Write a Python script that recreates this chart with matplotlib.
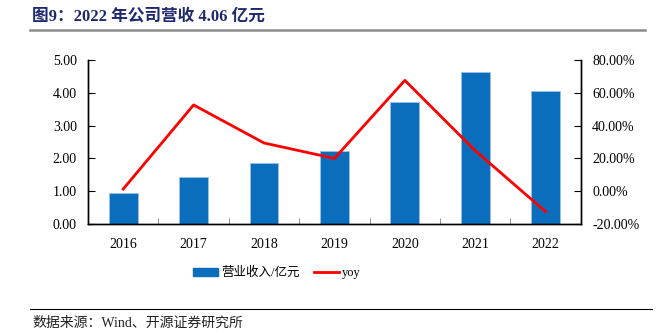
import numpy as np
import matplotlib.pyplot as plt
from matplotlib.lines import Line2D

plt.rcParams['font.family'] = ['Liberation Serif', 'Noto Sans CJK SC']
plt.rcParams['axes.unicode_minus'] = False

years = ['2016', '2017', '2018', '2019', '2020', '2021', '2022']
revenue = [0.94, 1.43, 1.85, 2.22, 3.72, 4.64, 4.06]
yoy = [1.3, 52.6, 29.4, 20.0, 67.6, 24.7, -12.5]

bar_color = '#0A6EBD'
line_color = '#FF0000'

fig = plt.figure(figsize=(6.59, 3.33), dpi=100)
ax1 = fig.add_axes([0.1335, 0.3273, 0.748, 0.4925])
ax2 = ax1.twinx()

x = np.arange(len(years))
ax1.bar(x, revenue, width=0.41, color=bar_color, edgecolor='#9DC3E6',
        linewidth=0.6, label='营业收入/亿元', zorder=2)
ax2.plot(x, yoy, color=line_color, linewidth=2.0, label='yoy', zorder=3)

ax1.set_xlim(-0.5, len(years) - 0.5)
ax1.set_ylim(0, 5)
ax1.set_yticks(np.arange(0, 5.01, 1))
ax1.set_yticklabels([f'{v:.2f}' for v in np.arange(0, 5.01, 1)])
ax2.set_ylim(-20, 80)
ax2.set_yticks(np.arange(-20, 81, 20))
ax2.set_yticklabels([f'{v:.2f}%' for v in np.arange(-20, 81, 20)])

ax1.set_xticks(x)
ax1.set_xticklabels(years)
ax1.set_xticks(np.arange(0.5, len(years) - 1, 1), minor=True)
ax1.tick_params(axis='x', which='major', length=0, pad=10, labelsize=10)
ax1.tick_params(axis='x', which='minor', direction='in', length=4, color='#808080')
ax1.tick_params(axis='y', direction='in', length=5, labelsize=10, pad=8)
ax2.tick_params(axis='y', direction='in', length=5, labelsize=10, pad=8)

for ax in (ax1, ax2):
    ax.spines['top'].set_visible(False)
    for s in ('left', 'right', 'bottom'):
        ax.spines[s].set_linewidth(1.0)
        ax.spines[s].set_color('black')

# legend
handles = [plt.Rectangle((0, 0), 1, 1, color=bar_color),
           Line2D([0], [0], color=line_color, linewidth=2.0)]
fig.legend(handles, ['营业收入/亿元', 'yoy'], loc='center',
           bbox_to_anchor=(277 / 659, 1 - 273 / 333), ncol=2, frameon=False,
           fontsize=9, handlelength=2.0, handleheight=0.6,
           handletextpad=0.25, columnspacing=1.1)

# title and rules
fig.text(32 / 659, 1 - 17 / 333, '图9：2022 年公司营收 4.06 亿元', fontsize=12,
         fontweight='bold', color='#1F2A6E', va='center', ha='left')
fig.add_artist(Line2D([30 / 659, 645 / 659], [1 - 30 / 333] * 2,
                      color='#8C8C8C', linewidth=1.8))
fig.add_artist(Line2D([30 / 659, 652 / 659], [1 - 309 / 333] * 2,
                      color='black', linewidth=0.8))
fig.text(32 / 659, 1 - 323 / 333, '数据来源：Wind、开源证券研究所', fontsize=10,
         va='center', ha='left', color='#222222')

fig.savefig('out.png', dpi=100)
